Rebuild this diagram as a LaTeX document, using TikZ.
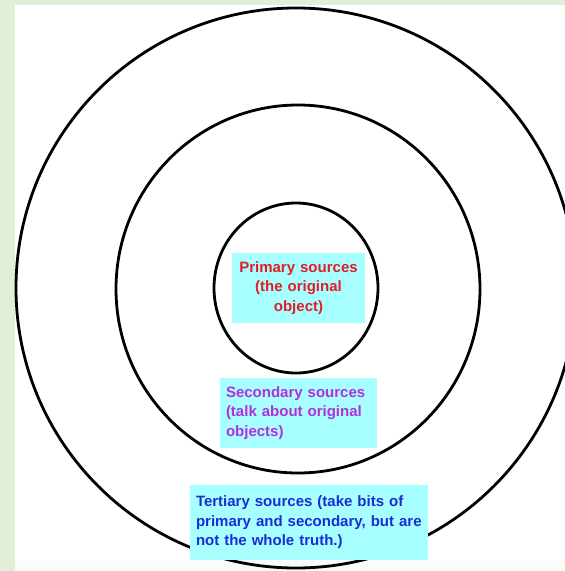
\documentclass[tikz,border=0pt]{standalone}
\usepackage{fontspec}
\setmainfont{Liberation Sans}
\definecolor{bggreen}{RGB}{226,238,216}
\definecolor{faint}{RGB}{250,251,246}
\definecolor{boxcyan}{RGB}{168,255,255}
\definecolor{primred}{RGB}{225,30,40}
\definecolor{secpurple}{RGB}{176,48,224}
\definecolor{terblue}{RGB}{25,45,215}
\tikzset{
  ring/.style={draw=black, line width=2.8pt},
  srcbox/.style={fill=boxcyan, inner xsep=6pt, inner ysep=0pt, font=\bfseries\fontsize{15}{19.5}\selectfont},
}
\begin{document}
\begin{tikzpicture}[x=1pt,y=-1pt]
\useasboundingbox (0,0) rectangle (565,571);
\clip (0,0) rectangle (565,571);
% background
\fill[white] (0,0) rectangle (565,571);
\fill[bggreen] (0,0) rectangle (15,571);
\fill[bggreen] (0,0) rectangle (565,5);
\fill[faint] (15,561) rectangle (565,571);
% rings
\draw[ring] (296,288) ellipse [x radius=280pt, y radius=280pt];
\draw[ring] (298,289) ellipse [x radius=182pt, y radius=184pt];
\draw[ring] (296,288) ellipse [x radius=82pt, y radius=85pt];
% labels
\node[srcbox, text=primred, text width=121pt, align=center, minimum height=70pt] (primary) at (298.5,288)
  {Primary sources\\(the original\\object)};
\node[srcbox, text=secpurple, text width=145pt, align=left, minimum height=70pt] (secondary) at (298.5,413)
  {Secondary sources\\(talk about original\\objects)};
\node[srcbox, text=terblue, text width=226pt, align=left, minimum height=75pt] (tertiary) at (309,522.5)
  {Tertiary sources (take bits of\\primary and secondary, but are\\not the whole truth.)};
\end{tikzpicture}
\end{document}
